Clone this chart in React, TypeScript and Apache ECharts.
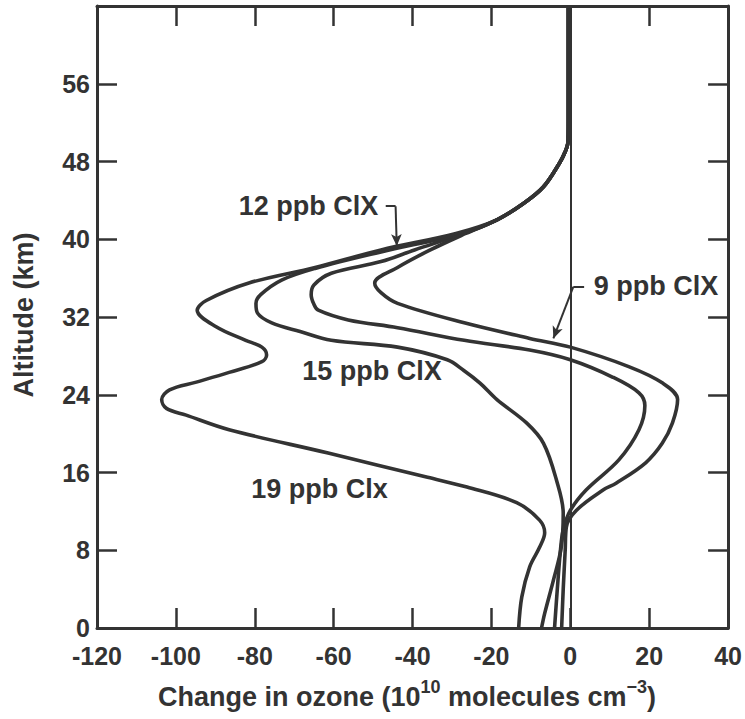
import React, { useEffect, useRef } from "react";
import * as echarts from "echarts";

const ink = "#333333";
const font = '"Liberation Sans", Arial, Helvetica, sans-serif';

// Axis ranges / ticks
const xMin = -120;
const xMax = 40;
const xStep = 20;
const yMin = 0;
const yMax = 64;
const yStep = 8;

// Shared upper part (all curves coincide above ~42 km)
const trunkAlt = [64, 56, 52, 50, 49, 47.8, 45.4, 43.7, 42.0];
const trunkDelta = [-0.5, -0.5, -0.5, -0.6, -1.3, -2.8, -6.8, -11.8, -18.6];

// 9 ppb ClX
const clx9Alt = [40.6, 38.9, 37.1, 35.5, 34.5, 33.4, 31.4, 29.8, 28.9, 26.9, 25.2, 23.5, 21.1, 19.0, 17.0, 14.9, 14.2, 12.1, 10.4, 8, 4, 0];
const clx9Delta = [-26.5, -35.5, -43.8, -49.6, -48, -43.8, -26.9, -10.3, 0, 14.8, 23.4, 27.2, 25.9, 23.3, 19.1, 11.6, 8.3, 1.5, -1, -1.3, -1.8, -2.2];

// 12 ppb ClX
const clx12Alt = [40.6, 38.9, 37.7, 36.5, 35.3, 34.3, 33.3, 32.7, 31.7, 30.9, 29.6, 28.6, 27.6, 25.8, 24.2, 22.9, 20.4, 17.3, 14.2, 12.1, 10.1, 8, 4, 0];
const clx12Delta = [-27, -39.5, -48, -60.6, -65, -65.7, -65, -63.9, -56.3, -43.8, -26.9, -10.3, 0, 10.8, 17.4, 18.9, 17.4, 12.3, 4.0, 0, -1.8, -2.5, -3.3, -4];

// 15 ppb ClX
const clx15Alt = [40.6, 38.7, 37.0, 35.8, 34.3, 33.4, 32.4, 31.4, 30.5, 29.6, 28.9, 27.6, 26.5, 25.2, 23.5, 21.1, 19.0, 15.2, 11.8, 8.3, 4.9, 1.5, 0];
const clx15Delta = [-27.5, -48, -64.7, -73.2, -78.5, -79.7, -79.3, -75.7, -68.5, -60.6, -43.8, -31.2, -27, -22.9, -18.6, -11.1, -6.8, -3.5, -1.8, -2.3, -4.3, -6.5, -7.3];

// 19 ppb Clx
const clx19Alt = [40.6, 38.9, 37.1, 35.5, 33.7, 32.7, 31.0, 29.6, 28.9, 28.1, 27.4, 26.3, 25.3, 24.5, 23.5, 22.6, 21.9, 20.4, 18.0, 15.5, 14.5, 12.9, 11.1, 9.8, 8.3, 6.3, 3.2, 0];
const clx19Delta = [-29, -48, -64.7, -81.5, -92.3, -94.6, -89.8, -82.3, -78.2, -77, -78.2, -86.5, -94.8, -101.6, -103.6, -102.4, -97.4, -86.5, -61.4, -36.2, -26.2, -13.6, -7.8, -6.5, -7.8, -10.3, -12.3, -13.1];

// Curve annotations
const labelTexts = ["12 ppb ClX", "9 ppb ClX", "15 ppb ClX", "19 ppb Clx"];
const labelX = [-66.4, 5.8, -50.3, -63.6];
const labelY = [43.4, 35.2, 26.4, 14.3];
const labelPos = ["inside", "right", "inside", "inside"];

// Leader lines [x1, y1, x2, y2, arrow]
const leaders: [number, number, number, number, boolean][] = [
  [-46.8, 43.4, -44.3, 43.4, false],
  [-44.3, 43.4, -44.0, 39.3, true],
  [3.5, 35.1, 0.75, 35.1, false],
  [0.75, 35.1, -4.3, 29.8, true],
];

const xTitle = "{b|Change in ozone (10}{s|10}{b| molecules cm}{s|\u22123}{b|)}";
const yTitle = "Altitude (km)";

function curve(alt: number[], delta: number[]) {
  const a = trunkAlt.concat(alt);
  const d = trunkDelta.concat(delta);
  return a.map((v, i) => [d[i], v]);
}

const curves = [
  { name: "9 ppb ClX", data: curve(clx9Alt, clx9Delta) },
  { name: "12 ppb ClX", data: curve(clx12Alt, clx12Delta) },
  { name: "15 ppb ClX", data: curve(clx15Alt, clx15Delta) },
  { name: "19 ppb Clx", data: curve(clx19Alt, clx19Delta) },
];

export default function App() {
  const ref = useRef<HTMLDivElement>(null);
  useEffect(() => {
    if (!ref.current) return;
    const chart = echarts.init(ref.current, null, { renderer: "svg" });
    const axisLine = { show: true, onZero: false, lineStyle: { color: ink, width: 3 } };
    const tick = { show: true, inside: true, length: 20, lineStyle: { color: ink, width: 2.5 } };
    const labelStyle = { color: ink, fontSize: 25, fontWeight: "bold", fontFamily: font, lineHeight: 20 };
    const option: any = {
      animation: false,
      backgroundColor: "#ffffff",
      textStyle: { fontFamily: font },
      grid: { left: 97, right: 12, top: 6, bottom: 91, containLabel: false },
      xAxis: [
        {
          type: "value", min: xMin, max: xMax, interval: xStep, position: "bottom",
          axisLine, axisTick: tick, splitLine: { show: false },
          axisLabel: { ...labelStyle, margin: 18 },
        },
        {
          type: "value", min: xMin, max: xMax, interval: xStep, position: "top",
          axisLine, axisTick: tick, splitLine: { show: false },
          axisLabel: { show: false },
        },
      ],
      yAxis: [
        {
          type: "value", min: yMin, max: yMax, interval: yStep, position: "left",
          axisLine, axisTick: tick, splitLine: { show: false },
          axisLabel: {
            ...labelStyle, margin: 7,
            formatter: (v: number) => (v >= yMax ? "" : String(v)),
          },
        },
        {
          type: "value", min: yMin, max: yMax, interval: yStep, position: "right",
          axisLine, axisTick: tick, splitLine: { show: false },
          axisLabel: { show: false },
        },
      ],
      series: [
        ...curves.map((c) => ({
          type: "line",
          name: c.name,
          data: c.data,
          smooth: 0.35,
          symbol: "none",
          silent: true,
          z: 3,
          lineStyle: { color: ink, width: 3.6 },
        })),
        {
          type: "scatter",
          name: "labels",
          silent: true,
          symbol: "circle",
          symbolSize: 1,
          itemStyle: { color: "rgba(255,255,255,0)", opacity: 1 },
          z: 5,
          data: labelTexts.map((t, i) => ({
            name: t,
            value: [labelX[i], labelY[i]],
            label: {
              show: true,
              position: labelPos[i],
              distance: 0,
              formatter: "{b}",
              color: ink,
              opacity: 1,
              fontSize: 27,
              fontWeight: "bold",
              fontFamily: font,
            },
          })),
          markLine: {
            silent: true,
            symbol: ["none", "none"],
            label: { show: false },
            lineStyle: { color: ink, width: 2, type: "solid", opacity: 1 },
            emphasis: { disabled: true },
            data: [
              { xAxis: 0 },
              ...leaders.map((l) => [
                { coord: [l[0], l[1]], symbol: "none" },
                { coord: [l[2], l[3]], symbol: l[4] ? "arrow" : "none", symbolSize: [8, 12] },
              ]),
            ],
          },
        },
      ],
      graphic: [
        {
          type: "text",
          x: 407,
          y: 694,
          silent: true,
          style: {
            text: xTitle,
            align: "center",
            verticalAlign: "middle",
            rich: {
              b: { fontSize: 27, fontWeight: "bold", fontFamily: font, fill: ink, lineHeight: 32, verticalAlign: "bottom" },
              s: { fontSize: 18, fontWeight: "bold", fontFamily: font, fill: ink, lineHeight: 18, verticalAlign: "top" },
            },
          },
        },
        {
          type: "text",
          x: 24,
          y: 315,
          rotation: Math.PI / 2,
          silent: true,
          style: {
            text: yTitle,
            align: "center",
            verticalAlign: "middle",
            fontSize: 27,
            fontWeight: "bold",
            fontFamily: font,
            fill: ink,
          },
        },
      ],
    };
    chart.setOption(option);
    return () => chart.dispose();
  }, []);
  return (
    <div
      ref={ref}
      style={{ position: "fixed", left: 0, top: 0, width: 745, height: 719, background: "#fff" }}
    />
  );
}
